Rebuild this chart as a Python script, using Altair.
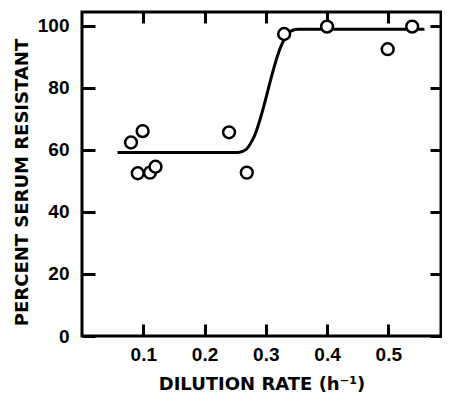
import altair as alt
import pandas as pd

# Data points
dilution = [0.080, 0.099, 0.091, 0.111, 0.120, 0.240, 0.269, 0.330, 0.400, 0.499, 0.539]
resistant = [62.4, 66.1, 52.5, 52.7, 54.6, 65.7, 52.7, 97.4, 99.8, 92.5, 99.8]

# Fitted curve (hand-drawn in original)
curve_x = [0.058, 0.255, 0.268, 0.279, 0.326, 0.336, 0.352, 0.559]
curve_y = [59.2, 59.2, 60.2, 63.5, 94.0, 97.6, 98.9, 98.9]

x_ticks = [0.1, 0.2, 0.3, 0.4, 0.5]
y_ticks = [0, 20, 40, 60, 80, 100]

pts = pd.DataFrame({"x": dilution, "y": resistant})
fit = pd.DataFrame({"x": curve_x, "y": curve_y})

FONT = "DejaVu Sans"
LFONT = "Liberation Sans"
xscale = alt.Scale(domain=[0, 0.586], nice=False, zero=False)
yscale = alt.Scale(domain=[0, 104.5], nice=False, zero=False)

x_bottom = alt.Axis(
    orient="bottom", values=x_ticks, format=".1f", offset=-12, tickSize=12, tickWidth=3,
    tickColor="black", domain=False, grid=False, labelFont=LFONT,
    labelFontSize=19, labelFontWeight="bold", labelColor="black", labelPadding=9,
    title="DILUTION RATE (h⁻¹)", titleFont=FONT, titleFontSize=18, titleFontWeight="bold",
    titleColor="black", titleY=51,
)
y_left = alt.Axis(
    orient="left", values=y_ticks, format="d", offset=-13, tickSize=13, tickWidth=3,
    tickColor="black", domain=False, grid=False, labelFont=LFONT,
    labelFontSize=19, labelFontWeight="bold", labelColor="black", labelPadding=13,
    title="PERCENT SERUM RESISTANT", titleFont=FONT, titleFontSize=18, titleFontWeight="bold",
    titleColor="black", titleX=-64, titleY=170,
)
x_top = alt.Axis(
    orient="top", values=x_ticks, offset=-11, tickSize=11, tickWidth=3, tickColor="black",
    domain=False, grid=False, labels=False, title=None,
)
y_right = alt.Axis(
    orient="right", values=y_ticks, offset=-11, tickSize=11, tickWidth=3, tickColor="black",
    domain=False, grid=False, labels=False, title=None,
)

line = alt.Chart(fit).mark_line(color="black", strokeWidth=3, interpolate="monotone").encode(
    x=alt.X("x:Q", scale=xscale, axis=x_top),
    y=alt.Y("y:Q", scale=yscale, axis=y_right),
)
points = alt.Chart(pts).mark_point(
    shape="circle", size=140, filled=False, fill="white", fillOpacity=1,
    stroke="black", strokeWidth=2.5, opacity=1,
).encode(
    x=alt.X("x:Q", scale=xscale, axis=x_bottom),
    y=alt.Y("y:Q", scale=yscale, axis=y_left),
)

chart = (
    alt.layer(line, points)
    .resolve_axis(x="independent", y="independent")
    .properties(
        width=359, height=324,
        autosize=alt.AutoSizeParams(type="none"),
        padding={"left": 74, "top": 4, "right": 1, "bottom": 59},
        background="white",
    )
    .configure_view(stroke="black", strokeWidth=3)
)

chart.save("out.html", embed_options={"renderer": "svg", "actions": False})
